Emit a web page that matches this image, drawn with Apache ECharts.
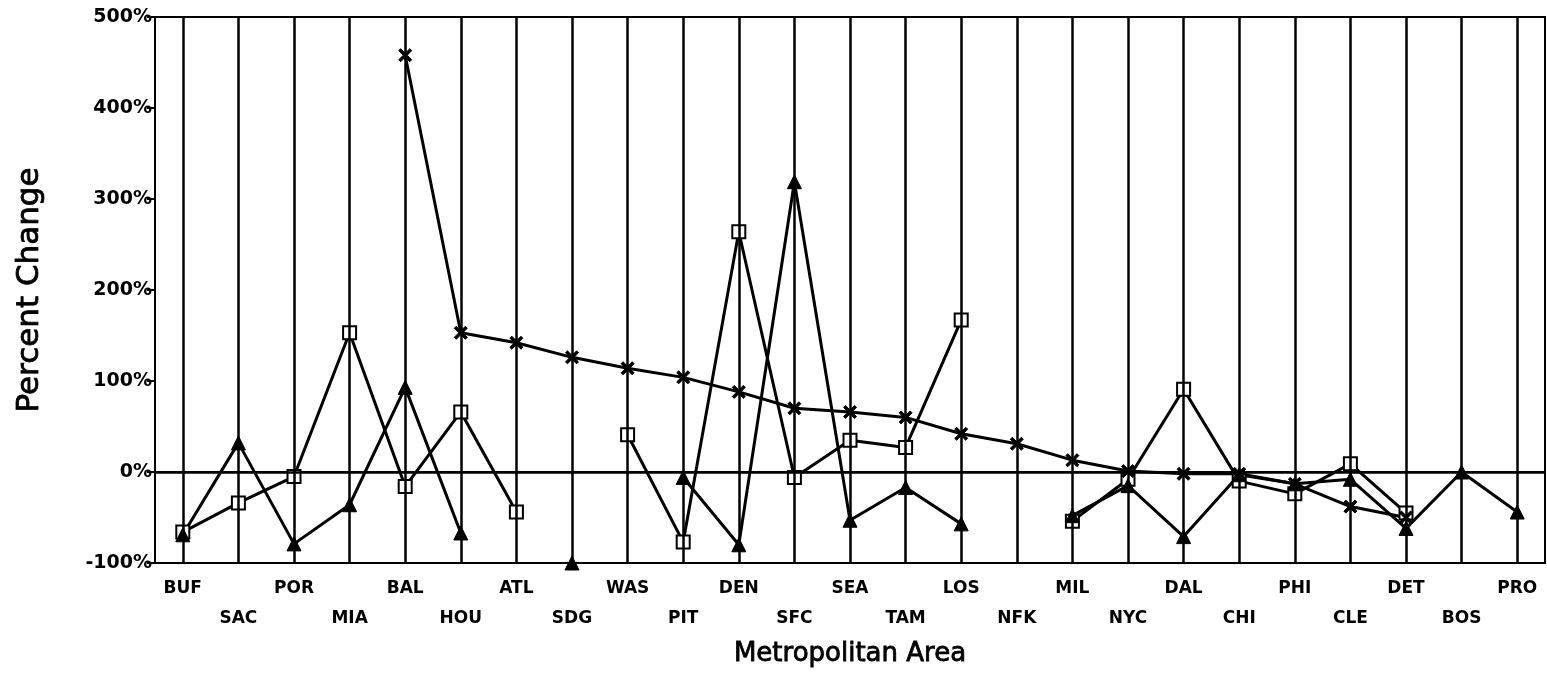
<!DOCTYPE html>
<html>
<head>
<meta charset="utf-8">
<script src="https://cdn.jsdelivr.net/npm/echarts@6/dist/echarts.min.js"></script>
<style>
  html, body { margin: 0; padding: 0; background: #fff; }
  #chart { width: 1547px; height: 680px; }
</style>
</head>
<body>
<div id="chart"></div>
<script>
// metro areas along the x axis
var areas = ['BUF', 'SAC', 'POR', 'MIA', 'BAL', 'HOU', 'ATL', 'SDG', 'WAS', 'PIT', 'DEN', 'SFC', 'SEA',
             'TAM', 'LOS', 'NFK', 'MIL', 'NYC', 'DAL', 'CHI', 'PHI', 'CLE', 'DET', 'BOS', 'PRO'];

// percent change (null = no point)
var squareVals   = [-66, -34, -5, 153, -16, 66, -44, null, 41, -77, 264, -6, 35,
                    27, 167, null, -54, -8, 91, -10, -24, 9, -45, null, null];
var triangleVals = [-69, 32, -79, -36, 93, -67, null, -100, null, -6, -80, 319, -53,
                    -17, -57, null, -48, -15, -71, -3, -13, -8, -62, 0, -44];
var crossVals    = [null, null, null, null, 458, 153, 142, 126, 114, 104, 88, 70, 66,
                    60, 42, 31, 13, 1, -2, -2, -13, -38, -50, null, null];

var yTicks = [-100, 0, 100, 200, 300, 400, 500];

var crossPath = 'path://M0,1.5L1.5,0L5,3.5L8.5,0L10,1.5L6.5,5L10,8.5L8.5,10L5,6.5L1.5,10L0,8.5L3.5,5Z';

var chart = echarts.init(document.getElementById('chart'));

var lineBase = {
    type: 'line',
    connectNulls: false,
    showAllSymbol: true,
    lineStyle: { color: '#000', width: 3 },
    itemStyle: { color: '#000', borderColor: '#000' },
    emphasis: { disabled: true },
    animation: false
};

var grids = areas.map(function (a) { return { xAxis: a }; });
grids.push({ yAxis: 0 });

chart.setOption({
    backgroundColor: '#fff',
    animation: false,
    grid: {
        left: 155, right: 2, top: 17, bottom: 117,
        show: true, borderColor: '#000', borderWidth: 2, backgroundColor: 'transparent'
    },
    xAxis: {
        type: 'category',
        data: areas,
        boundaryGap: true,
        name: 'Metropolitan Area',
        nameLocation: 'middle',
        nameGap: 78,
        nameTextStyle: { fontFamily: 'DejaVu Sans', fontSize: 26, color: '#000',
                         textBorderColor: '#000', textBorderWidth: 0.8 },
        axisLine: { lineStyle: { color: '#000', width: 2 } },
        axisTick: { alignWithLabel: true, length: 8, lineStyle: { color: '#000', width: 2 } },
        axisLabel: {
            interval: 0,
            margin: 11,
            color: '#000',
            fontFamily: 'DejaVu Sans',
            fontWeight: 'bold',
            fontSize: 17,
            lineHeight: 30,
            formatter: function (v, i) { return i % 2 ? '\n' + v : v; }
        },
        splitLine: { show: false }
    },
    yAxis: {
        type: 'value',
        min: -100, max: 500, interval: 100,
        name: 'Percent Change',
        nameLocation: 'middle',
        nameGap: 110,
        nameTextStyle: { fontFamily: 'DejaVu Sans', fontSize: 31, color: '#000',
                         textBorderColor: '#000', textBorderWidth: 0.8 },
        axisLine: { show: true, lineStyle: { color: '#000', width: 2 } },
        axisTick: { show: true, length: 8, lineStyle: { color: '#000', width: 2 } },
        axisLabel: {
            margin: 3,
            color: '#000',
            fontFamily: 'DejaVu Sans',
            fontWeight: 'bold',
            fontSize: 19,
            formatter: function (v) { return yTicks.indexOf(v) >= 0 ? v + '%' : ''; }
        },
        splitLine: { show: false }
    },
    series: [
        Object.assign({}, lineBase, {
            name: 'grid',
            data: [],
            markLine: {
                silent: true,
                symbol: ['none', 'none'],
                label: { show: false },
                lineStyle: { color: '#000', width: 2.5, type: 'solid' },
                data: grids,
                animation: false
            }
        }),
        Object.assign({}, lineBase, {
            name: 'square',
            data: squareVals,
            symbol: 'emptyRect',
            symbolSize: 13,
            itemStyle: { color: '#000' }
        }),
        Object.assign({}, lineBase, {
            name: 'triangle',
            data: triangleVals,
            symbol: 'triangle',
            symbolSize: 14
        }),
        Object.assign({}, lineBase, {
            name: 'cross',
            data: crossVals,
            symbol: crossPath,
            symbolSize: 13
        })
    ]
});
</script>
</body>
</html>
